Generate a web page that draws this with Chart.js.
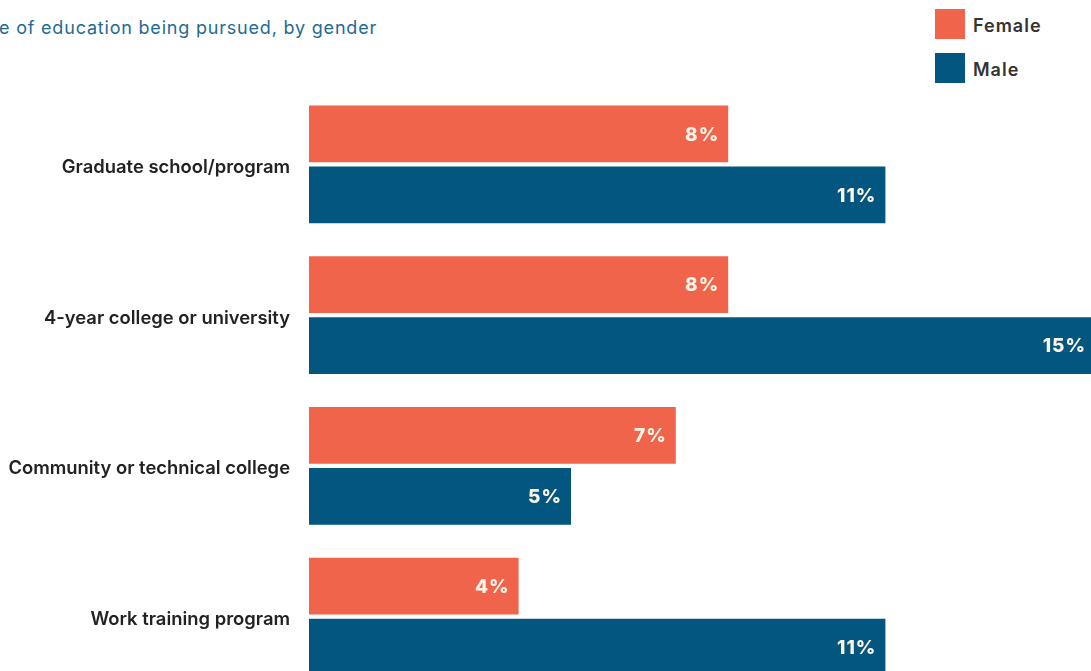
<!DOCTYPE html>
<html>
<head>
<meta charset="utf-8">
<script src="https://cdn.jsdelivr.net/npm/chart.js@4.4.1/dist/chart.umd.min.js"></script>
<style>
  html, body { margin: 0; padding: 0; background: #fff; overflow: hidden; width: 1091px; height: 671px; }
  #wrap { position: absolute; left: 0; top: 0; width: 1100px; height: 703px; }
  #title { position: absolute; top: -31px; font: 800 30px Inter, sans-serif; color: #0d4a6b; white-space: nowrap; }
  #subtitle { position: absolute; top: 17px; font: 400 18px Inter, sans-serif; color: #1f6a93; white-space: nowrap; letter-spacing: 0.8px; }
  .leg { position: absolute; left: 935px; font: 600 18px Inter, sans-serif; color: #333; }
  .leg span.sw { position: absolute; left: 0; top: 0; width: 30px; height: 30px; }
  .leg span.tx { position: absolute; left: 38px; top: 6px; white-space: nowrap; letter-spacing: 1px; }
</style>
</head>
<body>
<div id="title">Figure 10:</div>
<div id="subtitle">Type of education being pursued, by gender</div>
<div id="legend"></div>
<div id="wrap"><canvas id="myChart"></canvas></div>
<script>
var categories = ["Graduate school/program", "4-year college or university", "Community or technical college", "Work training program"];
var female = [8, 8, 7, 4];
var male = [11, 15, 5, 11];
var seriesNames = ["Female", "Male"];
var colors = ["#ef644b", "#03567f"];

// cut-off heading like the reference crop
function offsetLeft(el, hidden) {
    var c = document.createElement("canvas").getContext("2d");
    c.font = getComputedStyle(el).font;
    c.letterSpacing = getComputedStyle(el).letterSpacing;
    el.style.left = (-c.measureText(hidden).width - 1) + "px";
}
offsetLeft(document.getElementById("title"), "Fig");
offsetLeft(document.getElementById("subtitle"), "Typ");

// legend
var legend = document.getElementById("legend");
for (var i = 0; i < seriesNames.length; i++) {
    var d = document.createElement("div");
    d.className = "leg";
    d.style.top = (9 + i * 44) + "px";
    d.innerHTML = '<span class="sw" style="background:' + colors[i] + '"></span><span class="tx">' + seriesNames[i] + '</span>';
    legend.appendChild(d);
}

var barLabels = {
    id: "barLabels",
    afterDatasetsDraw: function (chart) {
        var ctx = chart.ctx;
        ctx.save();
        ctx.font = "800 19px Inter, sans-serif";
        ctx.letterSpacing = "1px";
        ctx.fillStyle = "#fbf4e6";
        ctx.textAlign = "right";
        ctx.textBaseline = "middle";
        chart.data.datasets.forEach(function (ds, di) {
            chart.getDatasetMeta(di).data.forEach(function (bar, j) {
                ctx.fillText(ds.data[j] + "%", bar.x - 9, bar.y + 1);
            });
        });
        ctx.restore();
    }
};

var ctx = document.getElementById("myChart");
var myChart = new Chart(ctx, {
    type: "bar",
    data: {
        labels: categories,
        datasets: [
            { label: seriesNames[0], data: female, backgroundColor: colors[0] },
            { label: seriesNames[1], data: male, backgroundColor: colors[1] }
        ]
    },
    options: {
        indexAxis: "y",
        responsive: true,
        maintainAspectRatio: false,
        animation: false,
        datasets: { bar: { categoryPercentage: 0.81, barPercentage: 0.93 } },
        layout: { padding: { top: 89, bottom: 0, left: 0, right: 5 } },
        plugins: { legend: { display: false }, tooltip: { enabled: false } },
        scales: {
            x: { display: false, min: 0, max: 15 },
            y: {
                grid: { display: true, drawOnChartArea: false, drawTicks: true, tickLength: 19, tickColor: "rgba(0,0,0,0)" },
                border: { display: false },
                ticks: { padding: 0, labelOffset: 3, color: "#222", font: { family: "Inter, sans-serif", size: 18.4, weight: "600" } },
                afterFit: function (scale) { scale.width = 309; }
            }
        }
    },
    plugins: [barLabels]
});
</script>
</body>
</html>
